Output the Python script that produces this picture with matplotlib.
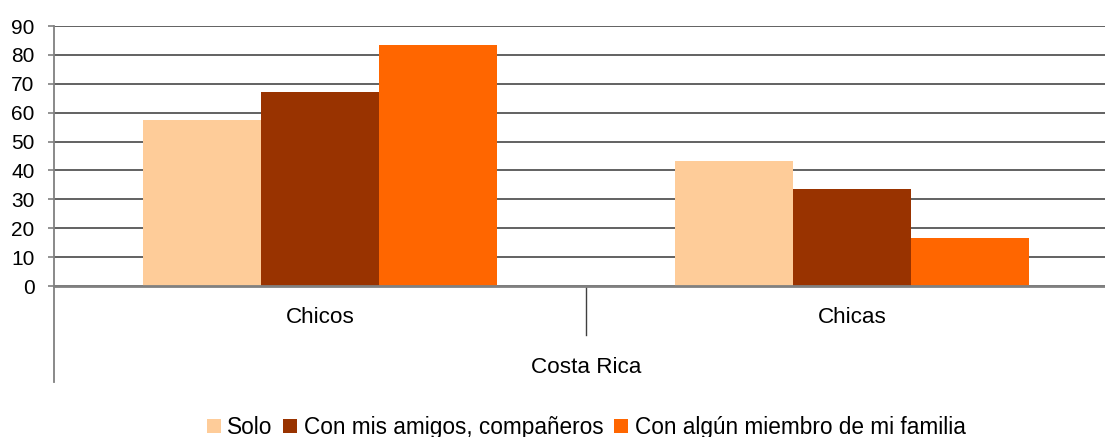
import matplotlib
matplotlib.use("Agg")
import matplotlib.pyplot as plt
from matplotlib.patches import Patch
from matplotlib.lines import Line2D
import numpy as np

categories = ["Chicos", "Chicas"]
group_label = "Costa Rica"
series_names = ["Solo", "Con mis amigos, compañeros", "Con algún miembro de mi familia"]
solo = [57.4, 43.2]
amigos = [67.1, 33.5]
familia = [83.4, 16.5]
yticks = [0, 10, 20, 30, 40, 50, 60, 70, 80, 90]
colors = ["#FECC99", "#993300", "#FF6600"]

plt.rcParams['font.family'] = ['Liberation Sans', 'DejaVu Sans']
fig = plt.figure(figsize=(11.05, 4.37), dpi=100)
ax = fig.add_axes([54/1105, 151/437, 1064/1105, 260/437])

x = np.arange(len(categories))
w = 0.222
for i, (vals, c) in enumerate(zip([solo, amigos, familia], colors)):
    ax.bar(x + (i - 1) * w, vals, width=w, color=c, edgecolor='none', zorder=3)

ax.set_xlim(-0.5, 1.5)
ax.set_ylim(0, 90)
ax.set_yticks(yticks)
ax.set_yticklabels([str(t) for t in yticks], fontsize=15)
ax.yaxis.grid(True, color="#555555", linewidth=1.3, zorder=1)
ax.set_axisbelow(True)
ax.tick_params(axis='y', length=4.5, width=1.2, color="#808080", pad=9.5)
ax.set_xticks([])
for s in ['top', 'right']:
    ax.spines[s].set_visible(False)
ax.spines['bottom'].set_color("#808080")
ax.spines['bottom'].set_linewidth(2)
ax.spines['bottom'].set_zorder(4)
ax.spines['left'].set_color("#808080")
ax.spines['left'].set_linewidth(1.3)

# extended left spine and category separator
ax.add_line(Line2D([0, 0], [0, -0.369], transform=ax.transAxes, color="#808080",
                   linewidth=1.3, clip_on=False))
ax.add_line(Line2D([0.5, 0.5], [0, -0.188], transform=ax.transAxes, color="#404040",
                   linewidth=1.0, clip_on=False))

trans = ax.get_xaxis_transform()
for xi, cat in zip(x, categories):
    ax.text(xi, -0.123, cat, transform=trans, ha='center', va='center', fontsize=16.2)
ax.text(0.5, -0.312, group_label, transform=ax.transAxes, ha='center', va='center', fontsize=16.2)

handles = [Patch(facecolor=c, edgecolor='none') for c in colors]
fig.legend(handles, series_names, loc='center', bbox_to_anchor=(586/1105, 0.022),
           ncol=3, frameon=False, fontsize=16.3, handlelength=0.62, handleheight=0.62,
           handletextpad=0.27, columnspacing=0.5, borderaxespad=0, borderpad=0)

fig.savefig("out.png", dpi=100)
